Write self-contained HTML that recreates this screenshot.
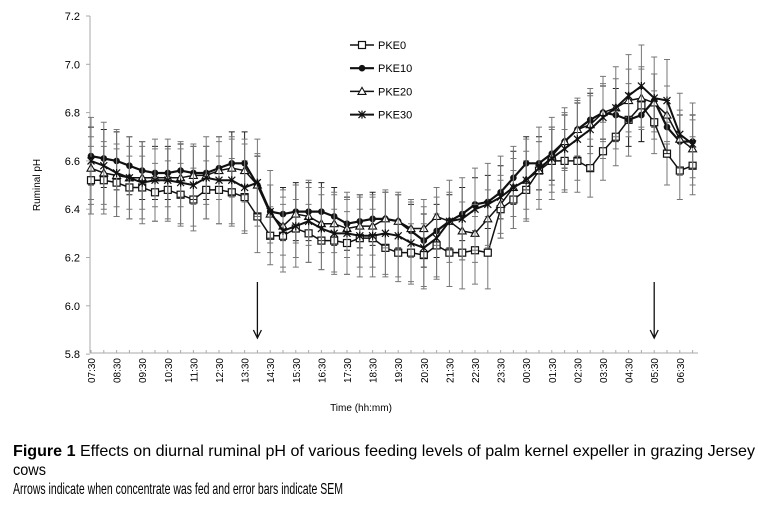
<!DOCTYPE html>
<html><head><meta charset="utf-8"><style>
html,body{margin:0;padding:0;background:#fff;}
svg{display:block;font-family:"Liberation Sans",Arial,sans-serif;}
</style></head><body>
<svg id="chart" width="758" height="508" viewBox="0 0 758 508" xmlns="http://www.w3.org/2000/svg">
<g id="axes"></g><g id="plot"></g><g id="legend"></g>
<text x="0" y="0" font-size="10" transform="translate(40,185) rotate(-90)" text-anchor="middle">Ruminal pH</text>
<text x="361" y="411" font-size="10" text-anchor="middle">Time (hh:mm)</text>
<g font-size="16">
<text x="13" y="456" textLength="742" lengthAdjust="spacingAndGlyphs"><tspan font-weight="bold">Figure 1</tspan> Effects on diurnal ruminal pH of various feeding levels of palm kernel expeller in grazing Jersey</text>
<text x="13" y="475" textLength="33" lengthAdjust="spacingAndGlyphs">cows</text>
<text x="13" y="494" textLength="330" lengthAdjust="spacingAndGlyphs">Arrows indicate when concentrate was fed and error bars indicate SEM</text>
</g>
</svg>
<script>
const timeLabels=["07:30","08:30","09:30","10:30","11:30","12:30","13:30","14:30","15:30","16:30","17:30","18:30","19:30","20:30","21:30","22:30","23:30","00:30","01:30","02:30","03:30","04:30","05:30","06:30"];
const yTicks=[5.8,6.0,6.2,6.4,6.6,6.8,7.0,7.2];
const pke0=[6.52,6.52,6.51,6.49,6.49,6.47,6.48,6.46,6.44,6.48,6.48,6.47,6.45,6.37,6.29,6.29,6.32,6.30,6.27,6.27,6.26,6.28,6.28,6.24,6.22,6.22,6.21,6.25,6.22,6.22,6.23,6.22,6.40,6.44,6.48,6.56,6.60,6.60,6.60,6.57,6.64,6.70,6.77,6.83,6.76,6.63,6.56,6.58];
const pke10=[6.62,6.61,6.60,6.58,6.56,6.55,6.55,6.56,6.55,6.55,6.57,6.59,6.59,6.50,6.39,6.38,6.39,6.39,6.39,6.37,6.34,6.35,6.36,6.36,6.35,6.31,6.27,6.31,6.35,6.38,6.42,6.43,6.47,6.53,6.59,6.59,6.63,6.68,6.73,6.77,6.80,6.79,6.77,6.79,6.85,6.74,6.68,6.68];
const pke20=[6.57,6.55,6.54,6.53,6.53,6.53,6.53,6.53,6.54,6.54,6.56,6.57,6.56,6.50,6.38,6.33,6.38,6.37,6.34,6.34,6.32,6.33,6.33,6.36,6.35,6.32,6.32,6.37,6.35,6.31,6.30,6.36,6.42,6.49,6.52,6.56,6.62,6.68,6.73,6.75,6.80,6.82,6.85,6.86,6.84,6.79,6.69,6.65];
const pke30=[6.60,6.58,6.55,6.53,6.51,6.52,6.52,6.51,6.50,6.53,6.52,6.52,6.49,6.51,6.39,6.31,6.33,6.35,6.32,6.30,6.30,6.29,6.29,6.30,6.29,6.26,6.24,6.28,6.35,6.36,6.40,6.42,6.45,6.49,6.52,6.57,6.61,6.65,6.69,6.73,6.78,6.82,6.87,6.91,6.86,6.85,6.71,6.67];
const sem0=[0.14,0.14,0.14,0.13,0.13,0.12,0.12,0.13,0.13,0.12,0.14,0.14,0.15,0.15,0.12,0.13,0.12,0.12,0.12,0.13,0.13,0.12,0.12,0.12,0.12,0.12,0.13,0.13,0.14,0.15,0.14,0.15,0.12,0.12,0.12,0.12,0.13,0.13,0.13,0.12,0.12,0.12,0.15,0.15,0.13,0.13,0.12,0.12];
const sem10=[0.12,0.12,0.12,0.12,0.12,0.11,0.11,0.11,0.11,0.11,0.13,0.13,0.13,0.12,0.11,0.11,0.12,0.12,0.12,0.12,0.11,0.11,0.11,0.11,0.11,0.11,0.11,0.11,0.11,0.11,0.11,0.11,0.11,0.11,0.11,0.11,0.11,0.11,0.11,0.11,0.11,0.11,0.11,0.11,0.11,0.11,0.11,0.11];
const sem20=[0.13,0.13,0.13,0.13,0.13,0.12,0.12,0.12,0.12,0.12,0.12,0.12,0.13,0.13,0.12,0.12,0.12,0.12,0.12,0.12,0.12,0.12,0.12,0.12,0.12,0.12,0.12,0.12,0.12,0.12,0.12,0.12,0.12,0.12,0.12,0.12,0.12,0.12,0.12,0.12,0.12,0.12,0.13,0.13,0.12,0.12,0.12,0.12];
const sem30=[0.18,0.18,0.18,0.17,0.17,0.17,0.17,0.17,0.17,0.17,0.18,0.18,0.18,0.18,0.17,0.17,0.17,0.17,0.17,0.17,0.17,0.17,0.17,0.17,0.17,0.17,0.17,0.17,0.17,0.17,0.17,0.17,0.17,0.17,0.17,0.17,0.17,0.17,0.17,0.17,0.17,0.17,0.17,0.17,0.17,0.17,0.17,0.17];
const feedIdx=[13,44];

const NS="http://www.w3.org/2000/svg";
const X0=91,DX=12.8,Y0=16,YS=241.5,YMAX=7.2,AXY=353;
const xs=i=>X0+i*DX;
const ys=v=>Y0+(YMAX-v)*YS;
function mk(tag,attrs,parent){const e=document.createElementNS(NS,tag);for(const k in attrs)e.setAttribute(k,attrs[k]);parent.appendChild(e);return e;}
const axes=document.getElementById('axes'),plot=document.getElementById('plot'),leg=document.getElementById('legend');

let yl=mk('line',{x1:90,y1:Y0,x2:90,y2:AXY,stroke:'#aaa'},axes);


let xl=mk('line',{x1:90,y1:AXY,x2:698,y2:AXY,stroke:'#aaa'},axes);


yTicks.forEach(v=>{
  mk('line',{x1:86,y1:ys(v),x2:90,y2:ys(v),stroke:'#aaa'},axes);
  const t=mk('text',{x:80,y:ys(v)+4,'font-size':11,'text-anchor':'end'},axes);t.textContent=v.toFixed(1);
  
  
});
for(let i=0;i<48;i++){mk('line',{x1:xs(i),y1:AXY,x2:xs(i),y2:AXY-3,stroke:'#aaa'},axes);}
timeLabels.forEach((s,k)=>{
  const x=xs(k*2)+4;
  const t=mk('text',{x:0,y:0,'font-size':10,'text-anchor':'end',transform:`translate(${x},358) rotate(-90)`},axes);t.textContent=s;
  
  
});

const series=[
 {name:'PKE0',vals:pke0,sem:sem0,marker:'square',lw:1.5},
 {name:'PKE10',vals:pke10,sem:sem10,marker:'circle',lw:2.2},
 {name:'PKE20',vals:pke20,sem:sem20,marker:'triangle',lw:1.5},
 {name:'PKE30',vals:pke30,sem:sem30,marker:'cross',lw:2}
];
function marker(type,x,y,g){
  if(type==='square')mk('rect',{x:x-3.5,y:y-3.5,width:7,height:7,fill:'#fff',stroke:'#111','stroke-width':1.2},g);
  else if(type==='circle')mk('circle',{cx:x,cy:y,r:3.3,fill:'#111'},g);
  else if(type==='triangle')mk('path',{d:`M${x},${y-4}L${x+4},${y+3}L${x-4},${y+3}Z`,fill:'#fff',stroke:'#111','stroke-width':1.1},g);
  else mk('path',{d:`M${x-3.5},${y-3.5}L${x+3.5},${y+3.5}M${x+3.5},${y-3.5}L${x-3.5},${y+3.5}M${x},${y-4}V${y+4}`,stroke:'#111','stroke-width':1.2},g);
}
series.forEach((s,si)=>{
  const g=mk('g',{},plot);
  
  
  s.vals.forEach((v,i)=>{
    const x=xs(i),e=s.sem[i],col=si===1?'#222':'#777';
    mk('path',{d:`M${x},${ys(v+e)}V${ys(v-e)}M${x-3},${ys(v+e)}h6M${x-3},${ys(v-e)}h6`,stroke:col,'stroke-width':1,fill:'none'},g);
  });
  mk('polyline',{points:s.vals.map((v,i)=>xs(i)+','+ys(v)).join(' '),fill:'none',stroke:'#111','stroke-width':s.lw},g);
  s.vals.forEach((v,i)=>marker(s.marker,xs(i),ys(v),g));
  const ly=45+si*23.2;
  mk('line',{x1:350,y1:ly,x2:374,y2:ly,stroke:'#111','stroke-width':s.lw},leg);
  marker(s.marker,362,ly,leg);
  const t=mk('text',{x:378,y:ly+4,'font-size':11},leg);t.textContent=s.name;
  
  
});
feedIdx.forEach(i=>{
  const x=xs(i);
  const a=mk('path',{d:`M${x},282V338M${x-4},330L${x},338L${x+4},330`,stroke:'#111','stroke-width':1.3,fill:'none'},plot);
  
  
});
</script>
</body></html>
